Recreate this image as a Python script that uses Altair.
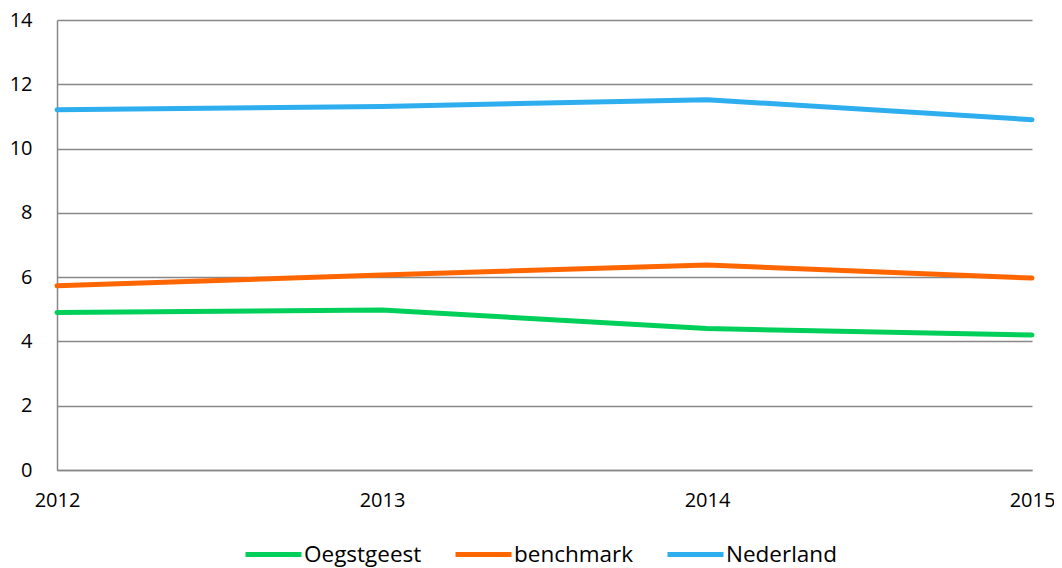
import altair as alt
import pandas as pd

years = ["2012", "2013", "2014", "2015"]
series = ["Oegstgeest", "benchmark", "Nederland"]
oegstgeest = [4.9, 4.98, 4.4, 4.2]
benchmark = [5.73, 6.07, 6.38, 5.97]
nederland = [11.21, 11.31, 11.52, 10.9]
colors = ["#00D05A", "#FF6600", "#2EAEEE"]

rows = []
for name, vals in zip(series, [oegstgeest, benchmark, nederland]):
    for y, v in zip(years, vals):
        rows.append({"year": y, "series": name, "value": v})
df = pd.DataFrame(rows)

FONT = "Open Sans"

chart = alt.Chart(df).mark_line(strokeWidth=5, strokeCap="round").encode(
    x=alt.X("year:O", title=None,
            scale=alt.Scale(type="point", padding=0),
            axis=alt.Axis(labelAngle=0, ticks=False, domain=True, domainColor="#888888",
                          domainWidth=1.5, grid=False, labelPadding=20,
                          labelFontSize=20, labelFont=FONT, labelColor="#000000")),
    y=alt.Y("value:Q", title=None,
            scale=alt.Scale(domain=[0, 14], nice=False),
            axis=alt.Axis(values=[0, 2, 4, 6, 8, 10, 12, 14], ticks=False, domain=True,
                          domainColor="#888888", domainWidth=1.5,
                          gridColor="#888888", gridWidth=1.5, labelPadding=25,
                          labelFontSize=20, labelFont=FONT, labelColor="#000000")),
    color=alt.Color("series:N", sort=series,
                    scale=alt.Scale(domain=series, range=colors),
                    legend=alt.Legend(title=None, orient="none", direction="horizontal",
                                      legendX=186, legendY=504,
                                      symbolType="stroke", symbolSize=3136,
                                      symbolStrokeWidth=5, labelOffset=0,
                                      columnPadding=23, labelFontSize=22.5,
                                      labelFont=FONT, labelColor="#000000")),
).properties(
    width=975, height=450,
    autosize=alt.AutoSizeParams(type="none"),
    padding={"left": 49, "top": 12, "right": 22, "bottom": 98},
).configure_view(stroke=None)

chart.save("out.html", embed_options={"renderer": "svg", "actions": False})
